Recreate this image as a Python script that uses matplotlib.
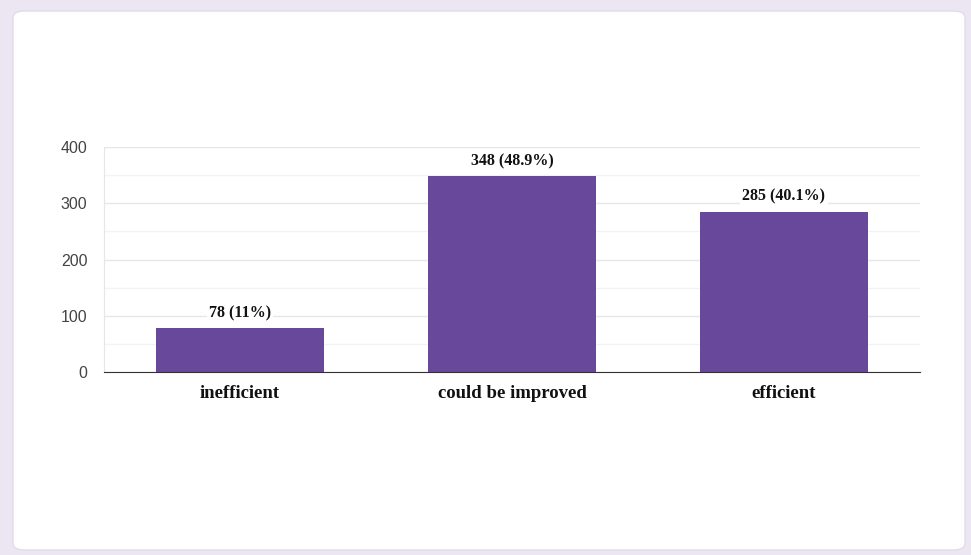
import numpy as np
import matplotlib
matplotlib.use("Agg")
import matplotlib.pyplot as plt
from matplotlib.patches import FancyBboxPatch
from matplotlib.ticker import MultipleLocator

categories = ["inefficient", "could be improved", "efficient"]
counts = [78, 348, 285]
percents = ["11%", "48.9%", "40.1%"]
yticks = [0, 100, 200, 300, 400]

bar_color = "#67489a"

fig = plt.figure(figsize=(9.71, 5.55), dpi=100)
fig.patch.set_facecolor("#ece6f2")

# white card behind the chart
card = FancyBboxPatch((13 / 971, 5 / 555), 952 / 971, 539 / 555,
                      boxstyle="round,pad=0,rounding_size=0.012",
                      transform=fig.transFigure, facecolor="white",
                      edgecolor="#e2dbea", linewidth=1.0, zorder=-1)
fig.patches.append(card)

ax = fig.add_axes([104 / 971, 1 - 372 / 555, 816 / 971, 225 / 555])
ax.set_facecolor("none")

x = np.arange(len(categories))
ax.bar(x, counts, width=0.615, color=bar_color, zorder=3)

for xi, c, p in zip(x, counts, percents):
    ax.annotate(f"{c} ({p})", (xi, c), xytext=(0, 5), textcoords="offset points",
                ha="center", va="bottom", fontsize=11.5, fontweight="bold",
                family="Liberation Serif", color="#111111", zorder=4,
                bbox=dict(facecolor="white", edgecolor="none", pad=1.5))

ax.set_xlim(-0.5, len(categories) - 0.5)
ax.set_ylim(0, 400)
ax.set_yticks(yticks)
ax.yaxis.set_minor_locator(MultipleLocator(50))
ax.grid(axis="y", which="major", color="#e6e6e6", linewidth=1.0, zorder=0)
ax.grid(axis="y", which="minor", color="#f3f3f3", linewidth=1.0, zorder=0)

ax.set_xticks(x)
ax.set_xticklabels(categories, fontsize=13.5, fontweight="bold",
                   family="Liberation Serif", color="#111111")
ax.tick_params(axis="x", length=0, pad=9)
ax.tick_params(axis="y", which="both", length=0, pad=12, labelsize=11.5,
               labelcolor="#444444")
for lbl in ax.get_yticklabels():
    lbl.set_family("Liberation Sans")

for side in ["top", "right"]:
    ax.spines[side].set_visible(False)
ax.spines["left"].set_color("#e6e6e6")
ax.spines["bottom"].set_color("#333333")
ax.spines["bottom"].set_zorder(4)

fig.savefig("out.png", dpi=100)
